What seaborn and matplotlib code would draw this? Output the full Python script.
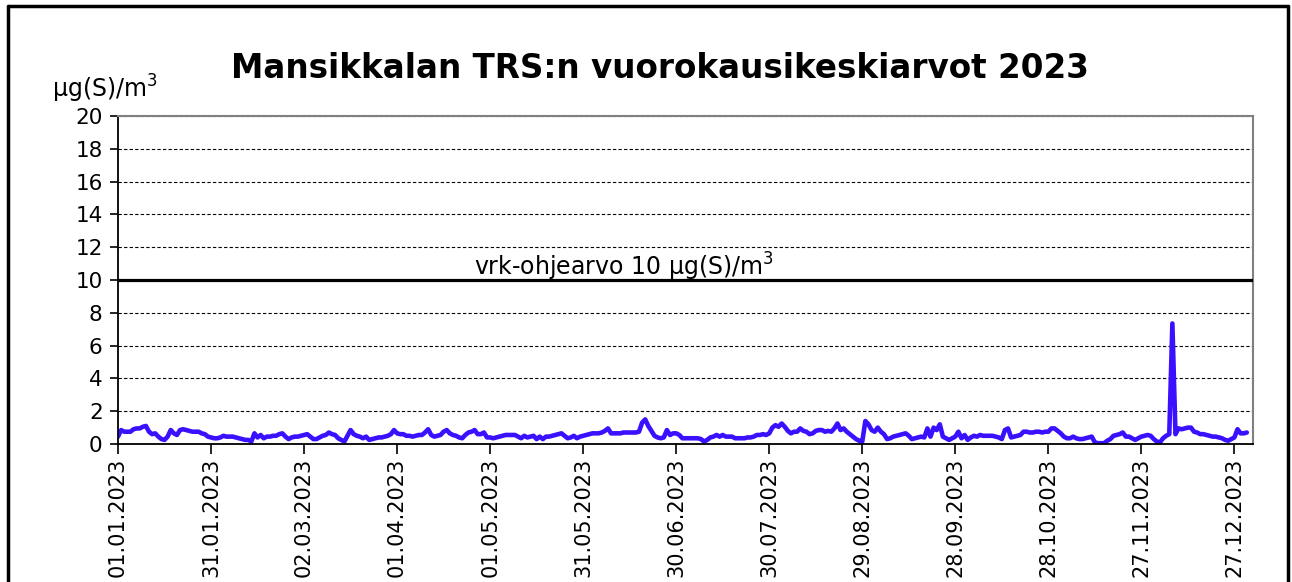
import pandas as pd
import seaborn as sns
import matplotlib.pyplot as plt
from matplotlib.lines import Line2D

# daily TRS means, ug(S)/m3
jan = [0.45, 0.85, 0.75, 0.75, 0.75, 0.9, 0.95, 0.95, 1.05, 1.1,
       0.75, 0.6, 0.65, 0.45, 0.3, 0.25, 0.45, 0.85, 0.65, 0.55,
       0.85, 0.9, 0.85, 0.8, 0.75, 0.75, 0.75, 0.65, 0.6, 0.45, 0.4]
feb = [0.35, 0.35, 0.4, 0.5, 0.45, 0.45, 0.45, 0.4, 0.35, 0.3,
       0.25, 0.25, 0.15, 0.65, 0.4, 0.55, 0.35, 0.45, 0.45, 0.5,
       0.5, 0.6, 0.65, 0.45, 0.3, 0.4, 0.45, 0.45]
mar = [0.5, 0.55, 0.6, 0.45, 0.3, 0.3, 0.4, 0.5, 0.55, 0.7,
       0.6, 0.55, 0.35, 0.25, 0.15, 0.5, 0.85, 0.6, 0.5, 0.45,
       0.35, 0.45, 0.25, 0.3, 0.35, 0.4, 0.4, 0.45, 0.5, 0.6, 0.85]
apr = [0.65, 0.6, 0.6, 0.5, 0.5, 0.45, 0.5, 0.55, 0.55, 0.7,
       0.9, 0.55, 0.45, 0.5, 0.55, 0.75, 0.85, 0.65, 0.55, 0.5,
       0.4, 0.35, 0.55, 0.7, 0.75, 0.85, 0.6, 0.6, 0.7, 0.4]
may = [0.4, 0.35, 0.4, 0.45, 0.5, 0.55, 0.55, 0.55, 0.55, 0.45,
       0.35, 0.5, 0.4, 0.45, 0.5, 0.3, 0.45, 0.3, 0.45, 0.45,
       0.5, 0.55, 0.6, 0.65, 0.5, 0.35, 0.4, 0.5, 0.35, 0.45, 0.5]
jun = [0.55, 0.6, 0.65, 0.65, 0.65, 0.7, 0.8, 0.95, 0.65, 0.65,
       0.65, 0.65, 0.7, 0.7, 0.7, 0.7, 0.7, 0.75, 1.3, 1.5,
       1.1, 0.8, 0.5, 0.4, 0.35, 0.4, 0.85, 0.55, 0.65, 0.65]
jul = [0.55, 0.35, 0.35, 0.35, 0.35, 0.35, 0.35, 0.3, 0.15, 0.25,
       0.4, 0.45, 0.55, 0.45, 0.55, 0.45, 0.45, 0.45, 0.35, 0.35,
       0.35, 0.35, 0.4, 0.4, 0.45, 0.55, 0.55, 0.6, 0.55, 0.65, 1.0]
aug = [1.15, 1.05, 1.25, 1.05, 0.8, 0.65, 0.75, 0.75, 0.95, 0.8,
       0.75, 0.6, 0.65, 0.8, 0.85, 0.85, 0.75, 0.8, 0.75, 0.95,
       1.25, 0.85, 0.95, 0.75, 0.6, 0.45, 0.3, 0.2, 0.15, 1.4, 1.2]
sep = [0.85, 0.75, 1.0, 0.75, 0.6, 0.3, 0.35, 0.45, 0.5, 0.55,
       0.6, 0.65, 0.5, 0.3, 0.35, 0.4, 0.45, 0.4, 0.95, 0.45,
       1.0, 0.85, 1.2, 0.45, 0.35, 0.25, 0.35, 0.45, 0.75, 0.35]
oct_ = [0.55, 0.25, 0.4, 0.5, 0.45, 0.55, 0.5, 0.5, 0.5, 0.5,
        0.45, 0.4, 0.3, 0.85, 0.95, 0.4, 0.45, 0.5, 0.55, 0.75,
        0.75, 0.7, 0.7, 0.75, 0.75, 0.7, 0.75, 0.75, 0.95, 0.95, 0.8]
nov = [0.65, 0.45, 0.35, 0.35, 0.45, 0.35, 0.3, 0.3, 0.35, 0.4,
       0.45, 0.1, 0.05, 0.05, 0.05, 0.2, 0.3, 0.5, 0.55, 0.6,
       0.7, 0.45, 0.45, 0.35, 0.25, 0.35, 0.45, 0.5, 0.55, 0.5]
dec = [0.3, 0.15, 0.1, 0.35, 0.5, 0.6, 7.35, 0.6, 0.95, 0.9,
       0.95, 1.0, 1.0, 0.75, 0.7, 0.6, 0.6, 0.55, 0.5, 0.45,
       0.45, 0.4, 0.35, 0.25, 0.2, 0.3, 0.4, 0.9, 0.65, 0.65, 0.7]

tick_labels = ["01.01.2023", "31.01.2023", "02.03.2023", "01.04.2023",
               "01.05.2023", "31.05.2023", "30.06.2023", "30.07.2023",
               "29.08.2023", "28.09.2023", "28.10.2023", "27.11.2023",
               "27.12.2023"]
y_ticks = [0, 2, 4, 6, 8, 10, 12, 14, 16, 18, 20]

title = "Mansikkalan TRS:n vuorokausikeskiarvot 2023"
unit_label = "µg(S)/m$^3$"
guide_value = 10
guide_label = "vrk-ohjearvo 10 µg(S)/m$^3$"

values = jan + feb + mar + apr + may + jun + jul + aug + sep + oct_ + nov + dec
df = pd.DataFrame({
    "date": pd.date_range("2023-01-01", periods=len(values), freq="D"),
    "TRS": values,
})

sns.set_style("white")
plt.rcParams["font.family"] = ["DejaVu Sans"]
plt.rcParams["text.color"] = "black"
plt.rcParams["xtick.color"] = "black"
plt.rcParams["ytick.color"] = "black"

W, H = 1292, 582
fig = plt.figure(figsize=(W / 100, H / 100), dpi=100)
ax = fig.add_axes([118 / W, 1 - 444 / H, (1253 - 118) / W, (444 - 116) / H])

sns.lineplot(data=df, x="date", y="TRS", ax=ax, color="#3a10ff", linewidth=3.3)
ax.axhline(guide_value, color="black", linewidth=2.3, zorder=3)
ax.text(0.446, guide_value + 0.25, guide_label, transform=ax.get_yaxis_transform(),
        ha="center", va="baseline", fontsize=17)

ax.set_xlim(pd.Timestamp("2023-01-01"), pd.Timestamp("2024-01-02"))
ax.set_ylim(0, 20)
ax.set_yticks(y_ticks)
ax.set_xticks(pd.to_datetime(tick_labels, format="%d.%m.%Y"))
ax.set_xticklabels(tick_labels, rotation=90, fontsize=15)
ax.tick_params(axis="y", labelsize=15.5, length=6, width=1.2, pad=5, left=True)
ax.tick_params(axis="x", length=7, width=1.2, pad=3, bottom=True)
ax.set_xlabel("")
ax.set_ylabel("")
ax.yaxis.grid(True, color="black", linestyle=(0, (3, 2)), linewidth=0.8)

for side in ["left", "bottom"]:
    ax.spines[side].set_color("black")
    ax.spines[side].set_linewidth(1.3)
for side in ["top", "right"]:
    ax.spines[side].set_color("#808080")
    ax.spines[side].set_linewidth(1.5)

fig.text(0.511, 1 - 68 / H, title, ha="center", va="center",
         fontsize=23.5, fontweight="bold")
fig.text(52 / W, 1 - 89 / H, unit_label, ha="left", va="center", fontsize=17)

# outer chart frame
frame = dict(color="black", linewidth=2.5, transform=fig.transFigure)
fig.add_artist(Line2D([8 / W, 8 / W], [0, 1 - 6 / H], **frame))
fig.add_artist(Line2D([8 / W, 1288 / W], [1 - 6 / H, 1 - 6 / H], **frame))
fig.add_artist(Line2D([1288 / W, 1288 / W], [0, 1 - 6 / H], **frame))

fig.savefig("out.png", dpi=100)
